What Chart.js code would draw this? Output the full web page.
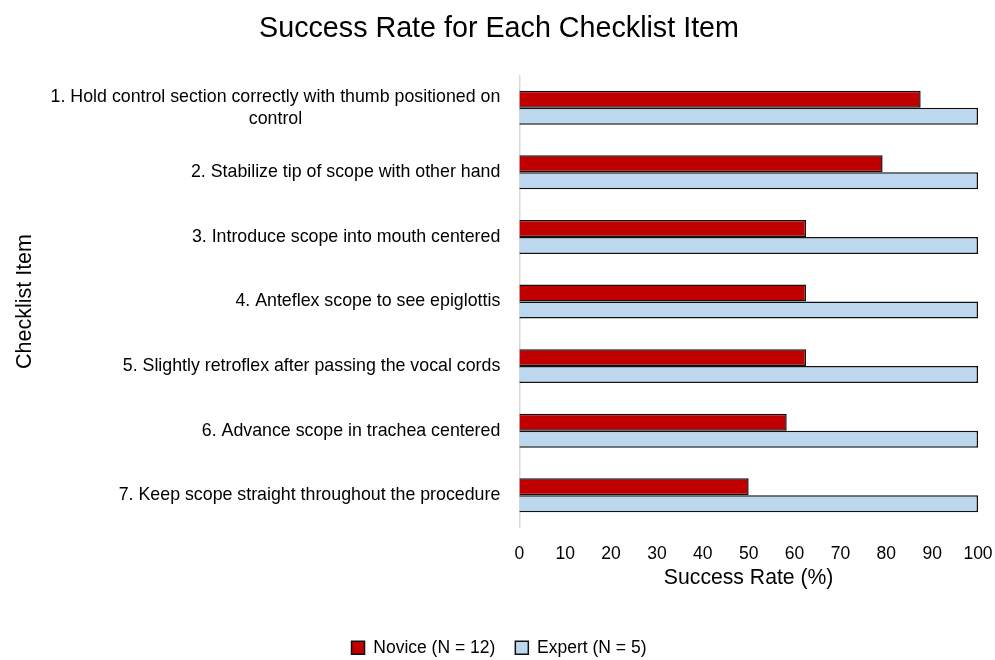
<!DOCTYPE html>
<html>
<head>
<meta charset="utf-8">
<script src="https://cdn.jsdelivr.net/npm/chart.js@4/dist/chart.umd.min.js"></script>
<style>
  html, body { margin: 0; padding: 0; background: #ffffff; }
  #wrap { width: 995px; height: 660px; }
</style>
</head>
<body>
<div id="wrap"><canvas id="chart" width="995" height="660"></canvas></div>
<script>
// Checklist items (first one wraps onto two lines)
const checklistItems = [
  ['1. Hold control section correctly with thumb positioned on', 'control'],
  '2. Stabilize tip of scope with other hand',
  '3. Introduce scope into mouth centered',
  '4. Anteflex scope to see epiglottis',
  '5. Slightly retroflex after passing the vocal cords',
  '6. Advance scope in trachea centered',
  '7. Keep scope straight throughout the procedure'
];

// Success rate (%) per item
const noviceRates = [87.5, 79.2, 62.5, 62.5, 62.5, 58.3, 50];
const expertRates = [100, 100, 100, 100, 100, 100, 100];

const seriesNames = ['Novice (N = 12)', 'Expert (N = 5)'];
const rateTicks = [0, 10, 20, 30, 40, 50, 60, 70, 80, 90, 100];

const FONT = '"Liberation Sans", Arial, Helvetica, sans-serif';
Chart.defaults.font.family = FONT;
Chart.defaults.color = '#000000';

// Draws each checklist label right-aligned to the axis, with wrapped lines
// centred under one another.
const checklistLabels = {
  id: 'checklistLabels',
  afterDraw(chart) {
    const scale = chart.scales.y;
    const ctx = chart.ctx;
    const lineGap = 22;
    const rightEdge = scale.right - 19;
    ctx.save();
    ctx.font = '17.8px ' + FONT;
    ctx.fillStyle = '#000000';
    ctx.textAlign = 'center';
    ctx.textBaseline = 'middle';
    checklistItems.forEach((item, i) => {
      const lines = Array.isArray(item) ? item : [item];
      const widest = Math.max(...lines.map(l => ctx.measureText(l).width));
      const cx = rightEdge - widest / 2;
      const cy = scale.getPixelForTick(i);
      lines.forEach((line, j) => {
        ctx.fillText(line, cx, cy + (j - (lines.length - 1) / 2) * lineGap);
      });
    });
    ctx.restore();
  }
};

new Chart(document.getElementById('chart'), {
  type: 'bar',
  data: {
    labels: checklistItems,
    datasets: [
      {
        label: seriesNames[0],
        data: noviceRates,
        backgroundColor: '#C00000',
        borderColor: '#111111',
        borderWidth: 1.5,
        categoryPercentage: 0.526,
        barPercentage: 1.0
      },
      {
        label: seriesNames[1],
        data: expertRates,
        backgroundColor: '#BDD7EE',
        borderColor: '#111111',
        borderWidth: 1.5,
        categoryPercentage: 0.526,
        barPercentage: 1.0
      }
    ]
  },
  options: {
    indexAxis: 'y',
    responsive: false,
    animation: false,
    layout: { padding: { top: 0, right: 17, bottom: 0, left: 20 } },
    plugins: {
      title: {
        display: true,
        text: 'Success Rate for Each Checklist Item',
        font: { size: 28.7, weight: 'normal' },
        color: '#000000',
        padding: { top: 12, bottom: 29 }
      },
      legend: {
        position: 'bottom',
        maxHeight: 41,
        labels: {
          boxWidth: 13,
          boxHeight: 13,
          padding: 20,
          color: '#000000',
          font: { size: 17.5 }
        }
      },
      tooltip: { enabled: false }
    },
    scales: {
      x: {
        min: 0,
        max: 100,
        afterBuildTicks(scale) {
          scale.ticks = rateTicks.map(v => ({ value: v }));
        },
        afterFit(scale) {
          scale.height = 91.4;
          // the "100" label fits inside the right page margin
          scale.paddingRight = 0;
        },
        grid: { display: false, drawTicks: false, tickLength: 0 },
        border: { display: false },
        ticks: {
          padding: 16,
          color: '#000000',
          font: { size: 17.5 },
          maxRotation: 0
        },
        title: {
          display: true,
          text: 'Success Rate (%)',
          color: '#000000',
          font: { size: 21.2 },
          padding: { top: 0, bottom: 28.5 }
        }
      },
      y: {
        afterFit(scale) { scale.width = 499.3; },
        grid: { display: false, drawTicks: false, tickLength: 0 },
        border: { display: true, color: '#d9d9d9', width: 1.5 },
        ticks: { display: false },
        title: {
          display: true,
          text: 'Checklist Item',
          color: '#000000',
          font: { size: 21.5 },
          padding: { top: -7.7, bottom: 0 }
        }
      }
    }
  },
  plugins: [checklistLabels]
});
</script>
</body>
</html>
